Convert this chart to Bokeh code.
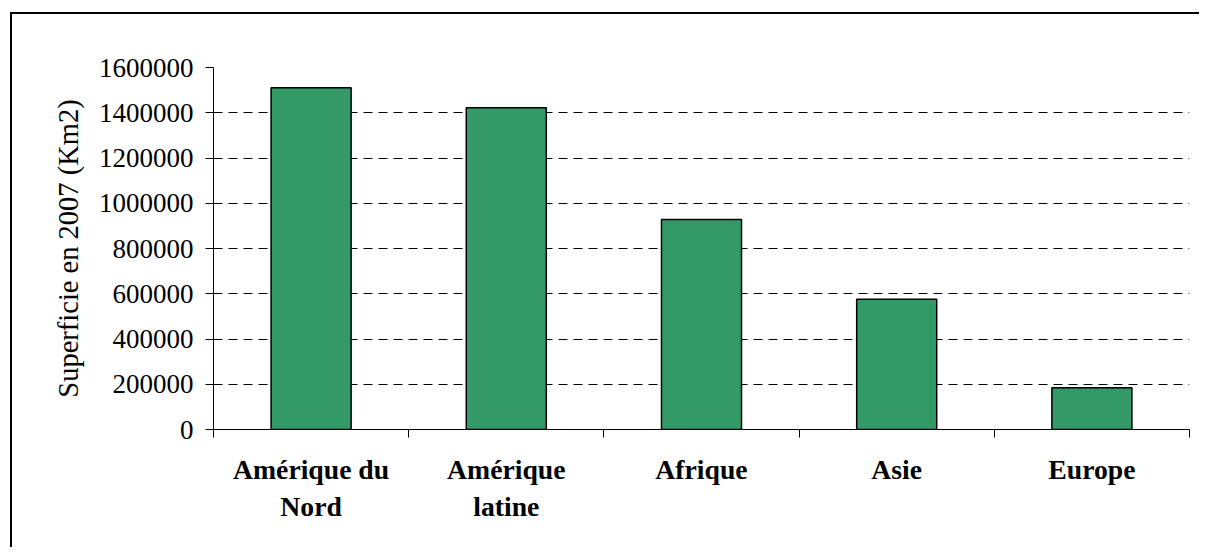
from bokeh.plotting import figure
from bokeh.models import FixedTicker, Range1d, NumeralTickFormatter
from bokeh.embed import file_html
from bokeh.resources import INLINE

categories = ["Amérique du\nNord", "Amérique\nlatine", "Afrique", "Asie", "Europe"]
values = [1510000, 1422000, 928000, 576000, 185000]
y_ticks = [0, 200000, 400000, 600000, 800000, 1000000, 1200000, 1400000, 1600000]

FONT = "Liberation Serif, Times New Roman, serif"

p = figure(width=1196, height=538, output_backend="svg", toolbar_location=None,
           x_range=Range1d(0, len(categories)), y_range=Range1d(0, 1600000),
           min_border_left=201, min_border_right=19, min_border_top=53, min_border_bottom=123)
p.margin = (12, 0, 0, 10)
p.styles = {"border-style": "solid", "border-color": "black",
            "border-width": "2px 0px 0px 2px",
            "clip-path": "inset(0px 7px 3px 0px)"}
p.outline_line_color = None
p.background_fill_color = "white"
p.border_fill_color = "white"

xs = [i + 0.5 for i in range(len(categories))]
p.vbar(x=xs, top=values, width=0.41, bottom=0, fill_color="#339966",
       line_color="black", line_width=1.5)

# x axis
xa = p.xaxis[0]
xa.ticker = FixedTicker(ticks=xs, minor_ticks=list(range(len(categories) + 1)))
xa.major_label_overrides = {x: c for x, c in zip(xs, categories)}
xa.major_tick_line_color = None
xa.major_tick_out = 8
xa.major_tick_in = 0
xa.minor_tick_out = 8
xa.minor_tick_in = 0
xa.minor_tick_line_color = "black"
xa.axis_line_color = "black"
xa.major_label_text_font = FONT
xa.major_label_text_font_style = "bold"
xa.major_label_text_font_size = "27.7px"
xa.major_label_text_color = "black"
xa.major_label_text_line_height = 1.22
xa.major_label_standoff = 16

# y axis
ya = p.yaxis[0]
ya.ticker = FixedTicker(ticks=y_ticks, minor_ticks=[])
ya.formatter = NumeralTickFormatter(format="0")
ya.major_tick_out = 8
ya.major_tick_in = 0
ya.major_tick_line_color = "black"
ya.axis_line_color = "black"
ya.major_label_text_font = FONT
ya.major_label_text_font_size = "27px"
ya.major_label_text_color = "black"
ya.major_label_standoff = 12
ya.axis_label = "Superficie en 2007 (Km2)"
ya.axis_label_text_font = FONT
ya.axis_label_text_font_size = "28.5px"
ya.axis_label_text_font_style = "normal"
ya.axis_label_text_color = "black"
ya.axis_label_standoff = 12

p.xgrid.grid_line_color = None
p.ygrid.ticker = FixedTicker(ticks=y_ticks)
p.ygrid.grid_line_color = "black"
p.ygrid.grid_line_dash = "9 6"
p.ygrid.grid_line_width = 1

open("out.html", "w").write(file_html(p, INLINE))
